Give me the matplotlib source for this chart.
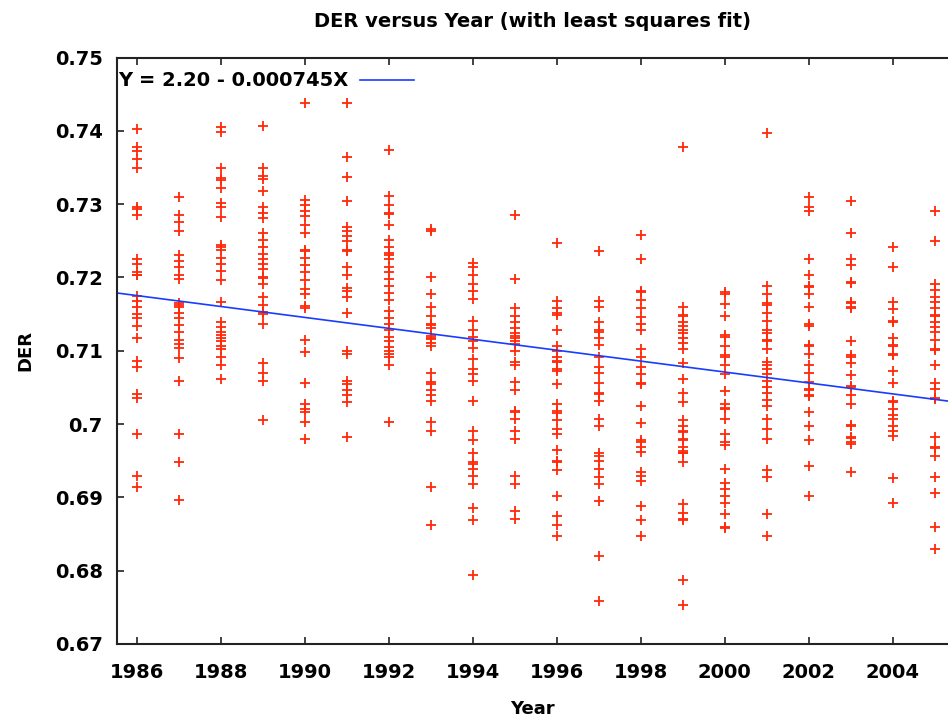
import numpy as np
import matplotlib
matplotlib.use("Agg")
import matplotlib.pyplot as plt

# --- DATA ---
years = list(range(1986, 2006))

d1986 = [0.7402, 0.7378, 0.7372, 0.7362, 0.7349, 0.7296, 0.7294, 0.7285, 0.7225, 0.7219, 0.7207, 0.7204,
         0.7203, 0.7175, 0.7168, 0.7160, 0.7150, 0.7145, 0.7134, 0.7118, 0.7086, 0.7078, 0.7041, 0.7036,
         0.6987, 0.6929, 0.6914]
d1987 = [0.7310, 0.7285, 0.7275, 0.7263, 0.7231, 0.7223, 0.7214, 0.7203, 0.7198, 0.7165, 0.7163, 0.7160,
         0.7152, 0.7145, 0.7135, 0.7126, 0.7115, 0.7109, 0.7104, 0.7090, 0.7059, 0.6987, 0.6948, 0.6896]
d1988 = [0.7405, 0.7399, 0.7349, 0.7335, 0.7333, 0.7322, 0.7302, 0.7296, 0.7282, 0.7244, 0.7242, 0.7238,
         0.7227, 0.7218, 0.7209, 0.7196, 0.7166, 0.7139, 0.7132, 0.7126, 0.7122, 0.7117, 0.7113, 0.7107,
         0.7102, 0.7092, 0.7081, 0.7062]
d1989 = [0.7406, 0.7349, 0.7339, 0.7334, 0.7318, 0.7296, 0.7288, 0.7281, 0.7260, 0.7251, 0.7241, 0.7232,
         0.7225, 0.7218, 0.7211, 0.7201, 0.7199, 0.7191, 0.7173, 0.7163, 0.7153, 0.7150, 0.7136, 0.7083,
         0.7070, 0.7059, 0.7005]
d1990 = [0.7438, 0.7305, 0.7299, 0.7291, 0.7284, 0.7272, 0.7261, 0.7238, 0.7236, 0.7227, 0.7217, 0.7207,
         0.7196, 0.7184, 0.7177, 0.7161, 0.7159, 0.7115, 0.7098, 0.7056, 0.7027, 0.7021, 0.7016, 0.7003,
         0.6980]
d1991 = [0.7438, 0.7364, 0.7337, 0.7304, 0.7269, 0.7264, 0.7256, 0.7250, 0.7238, 0.7236, 0.7214, 0.7203,
         0.7186, 0.7182, 0.7173, 0.7152, 0.7100, 0.7096, 0.7059, 0.7054, 0.7047, 0.7039, 0.7030, 0.6983]
d1992 = [0.7374, 0.7311, 0.7299, 0.7288, 0.7286, 0.7271, 0.7251, 0.7241, 0.7234, 0.7231, 0.7225, 0.7214,
         0.7208, 0.7198, 0.7188, 0.7179, 0.7169, 0.7154, 0.7145, 0.7137, 0.7129, 0.7119, 0.7113, 0.7105,
         0.7100, 0.7095, 0.7092, 0.7081, 0.7003]
d1993 = [0.7266, 0.7264, 0.7201, 0.7177, 0.7160, 0.7148, 0.7137, 0.7135, 0.7131, 0.7120, 0.7118, 0.7116,
         0.7111, 0.7107, 0.7069, 0.7057, 0.7055, 0.7046, 0.7039, 0.7032, 0.7003, 0.6991, 0.6914, 0.6862]
d1994 = [0.7220, 0.7214, 0.7203, 0.7191, 0.7182, 0.7170, 0.7140, 0.7129, 0.7119, 0.7114, 0.7104, 0.7089,
         0.7075, 0.7068, 0.7059, 0.7031, 0.6991, 0.6978, 0.6961, 0.6948, 0.6946, 0.6939, 0.6929, 0.6918,
         0.6885, 0.6869, 0.6794]
d1995 = [0.7285, 0.7198, 0.7159, 0.7148, 0.7139, 0.7131, 0.7124, 0.7120, 0.7118, 0.7114, 0.7109, 0.7099,
         0.7085, 0.7081, 0.7057, 0.7046, 0.7018, 0.7016, 0.7007, 0.6991, 0.6980, 0.6929, 0.6918, 0.6882,
         0.6871]
d1996 = [0.7247, 0.7168, 0.7159, 0.7152, 0.7149, 0.7129, 0.7107, 0.7100, 0.7092, 0.7086, 0.7084, 0.7075,
         0.7073, 0.7054, 0.7028, 0.7018, 0.7015, 0.7005, 0.6993, 0.6987, 0.6964, 0.6950, 0.6948, 0.6937,
         0.6902, 0.6874, 0.6863, 0.6848]
d1997 = [0.7236, 0.7168, 0.7160, 0.7139, 0.7128, 0.7126, 0.7117, 0.7108, 0.7091, 0.7078, 0.7069, 0.7056,
         0.7043, 0.7041, 0.7032, 0.7007, 0.6997, 0.6961, 0.6956, 0.6949, 0.6939, 0.6928, 0.6918, 0.6895,
         0.6820, 0.6759]
d1998 = [0.7258, 0.7225, 0.7182, 0.7180, 0.7169, 0.7159, 0.7146, 0.7136, 0.7128, 0.7103, 0.7092, 0.7078,
         0.7068, 0.7056, 0.7054, 0.7024, 0.7001, 0.6978, 0.6976, 0.6969, 0.6962, 0.6935, 0.6929, 0.6922,
         0.6888, 0.6869, 0.6848]
d1999 = [0.7378, 0.7160, 0.7149, 0.7147, 0.7139, 0.7134, 0.7129, 0.7124, 0.7117, 0.7110, 0.7102, 0.7083,
         0.7062, 0.7043, 0.7030, 0.7005, 0.6998, 0.6991, 0.6989, 0.6980, 0.6978, 0.6969, 0.6963, 0.6961,
         0.6960, 0.6948, 0.6891, 0.6879, 0.6871, 0.6869, 0.6787, 0.6753]
d2000 = [0.7180, 0.7177, 0.7164, 0.7148, 0.7121, 0.7119, 0.7106, 0.7094, 0.7092, 0.7080, 0.7068, 0.7045,
         0.7027, 0.7022, 0.7020, 0.7007, 0.6987, 0.6975, 0.6972, 0.6939, 0.6919, 0.6912, 0.6902, 0.6892,
         0.6878, 0.6860, 0.6858]
d2001 = [0.7397, 0.7188, 0.7178, 0.7165, 0.7163, 0.7152, 0.7140, 0.7129, 0.7124, 0.7115, 0.7113, 0.7102,
         0.7085, 0.7081, 0.7075, 0.7068, 0.7059, 0.7050, 0.7042, 0.7033, 0.7024, 0.7007, 0.6993, 0.6980,
         0.6937, 0.6928, 0.6878, 0.6847]
d2002 = [0.7310, 0.7296, 0.7291, 0.7225, 0.7203, 0.7189, 0.7187, 0.7178, 0.7160, 0.7136, 0.7134, 0.7108,
         0.7106, 0.7095, 0.7081, 0.7069, 0.7057, 0.7048, 0.7046, 0.7040, 0.7038, 0.7017, 0.6997, 0.6978,
         0.6943, 0.6902]
d2003 = [0.7304, 0.7261, 0.7225, 0.7217, 0.7194, 0.7192, 0.7167, 0.7165, 0.7160, 0.7158, 0.7114, 0.7094,
         0.7092, 0.7083, 0.7067, 0.7052, 0.7050, 0.7039, 0.7028, 0.6999, 0.6997, 0.6983, 0.6981, 0.6975,
         0.6973, 0.6934]
d2004 = [0.7241, 0.7214, 0.7166, 0.7157, 0.7141, 0.7139, 0.7117, 0.7108, 0.7106, 0.7096, 0.7094, 0.7073,
         0.7056, 0.7032, 0.7030, 0.7020, 0.7013, 0.7007, 0.6998, 0.6991, 0.6984, 0.6927, 0.6892]
d2005 = [0.7290, 0.7250, 0.7191, 0.7183, 0.7173, 0.7167, 0.7159, 0.7149, 0.7147, 0.7139, 0.7133, 0.7125,
         0.7115, 0.7103, 0.7101, 0.7081, 0.7056, 0.7048, 0.7036, 0.7034, 0.6982, 0.6969, 0.6967, 0.6956,
         0.6928, 0.6906, 0.6860, 0.6829]

der_columns = [d1986, d1987, d1988, d1989, d1990, d1991, d1992, d1993, d1994, d1995,
               d1996, d1997, d1998, d1999, d2000, d2001, d2002, d2003, d2004, d2005]

# least squares line as printed in the key (intercept)
fit_intercept = 2.1971
fit_slope = -0.000745
fit_label = "Y = 2.20 - 0.000745X"

yticks = [0.67, 0.68, 0.69, 0.70, 0.71, 0.72, 0.73, 0.74, 0.75]
ytick_labels = ["0.67", "0.68", "0.69", "0.7", "0.71", "0.72", "0.73", "0.74", "0.75"]
xticks = list(range(1986, 2006, 2))

plt.rcParams['font.family'] = ['DejaVu Sans']
plt.rcParams['font.weight'] = 'bold'

fig = plt.figure(figsize=(9.48, 7.21), dpi=100)
ax = fig.add_axes([0.1231, 0.1068, 0.8769, 0.8134])

xs, ys = [], []
for yr, col in zip(years, der_columns):
    xs += [yr] * len(col)
    ys += col
ax.plot(xs, ys, linestyle='none', marker='+', ms=6.8, mew=1.3, color='#ff2a0a')

x_lo, x_hi = 1985.52, 2005.32
line_x = np.array([x_lo, x_hi])
ax.plot(line_x, fit_intercept + fit_slope * line_x, color='#1a3cff', lw=1.2, label=fit_label)

ax.set_xlim(x_lo, x_hi)
ax.set_ylim(0.67, 0.75)
ax.set_xticks(xticks)
ax.set_xticklabels([str(t) for t in xticks], fontsize=14, fontweight='bold')
ax.set_yticks(yticks)
ax.set_yticklabels(ytick_labels, fontsize=14, fontweight='bold')
ax.tick_params(axis='x', direction='in', length=5, width=1.2, pad=14, top=True, color='#222222')
ax.tick_params(axis='y', direction='in', length=5, width=1.2, pad=10, right=False, color='#222222')
ax.spines['right'].set_visible(False)
for s in ['left', 'top', 'bottom']:
    ax.spines[s].set_linewidth(1.5)
    ax.spines[s].set_color('#222222')

ax.set_title("DER versus Year (with least squares fit)", fontsize=14, fontweight='bold', pad=22)
ax.set_xlabel("Year", fontsize=13, fontweight='bold', labelpad=13)
ax.set_ylabel("DER", fontsize=13, fontweight='bold', labelpad=15)

ax.legend(loc='upper left', bbox_to_anchor=(-0.007, 0.988), frameon=False, markerfirst=False,
          prop={'size': 14, 'weight': 'bold'}, handlelength=2.8, handletextpad=0.6,
          borderaxespad=0.0, borderpad=0.35)

fig.savefig("out.png", dpi=100)
